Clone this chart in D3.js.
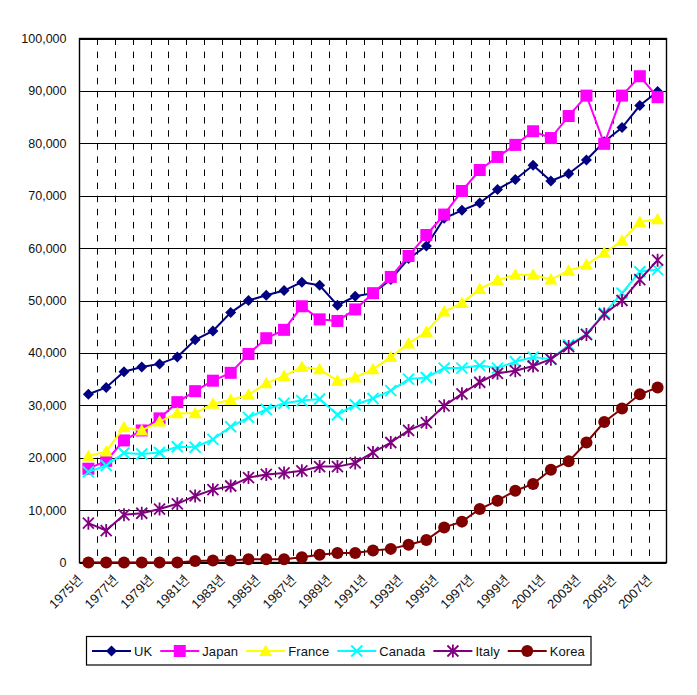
<!DOCTYPE html>
<html>
<head>
<meta charset="utf-8">
<script src="https://cdn.jsdelivr.net/npm/d3@7"></script>
<style>
  html, body { margin: 0; padding: 0; background: #fff; }
  svg text { font-family: "Liberation Sans", Arial, "Noto Sans CJK KR", sans-serif; fill: #111; }
</style>
</head>
<body>
<svg id="chart" width="697" height="695"></svg>
<script>
// ---- data (values in thousands) ----
const years = d3.range(1975, 2008);
const yearLabels = years.map(y => y + "년");
const yTicks = [0, 10000, 20000, 30000, 40000, 50000, 60000, 70000, 80000, 90000, 100000];
const seriesNames = ["UK", "Japan", "France", "Canada", "Italy", "Korea"];
const ukK = [32.1,33.4,36.4,37.3,37.9,39.2,42.5,44.2,47.7,50.0,51.0,51.9,53.5,52.9,49.1,50.8,51.4,54.0,58.0,60.4,65.7,67.2,68.6,71.2,73.1,75.8,72.8,74.2,76.8,80.3,83.0,87.2,89.9];
const japanK = [17.9,19.4,23.3,25.2,27.5,30.6,32.7,34.7,36.2,39.8,42.8,44.4,48.9,46.4,46.1,48.3,51.4,54.5,58.5,62.5,66.4,70.9,74.9,77.4,79.7,82.3,81.0,85.2,89.1,79.9,89.1,92.8,88.8];
const franceK = [20.3,21.2,25.8,25.2,26.9,28.5,28.5,30.3,31.0,32.0,34.2,35.6,37.3,36.9,34.7,35.3,36.9,39.2,41.8,44.0,47.9,49.5,52.2,53.9,54.9,54.9,54.0,55.7,56.8,59.1,61.4,65.0,65.5];
const canadaK = [17.3,18.5,20.9,20.7,21.0,22.1,22.0,23.5,25.9,27.7,29.2,30.4,30.9,31.2,28.2,30.1,31.3,32.8,35.0,35.3,37.1,37.1,37.6,37.1,38.3,39.2,38.8,41.5,43.6,47.6,51.4,55.5,55.9];
const italyK = [7.5,6.1,9.1,9.4,10.2,11.2,12.7,13.9,14.6,16.2,16.8,17.1,17.5,18.3,18.3,19.0,21.0,22.9,25.2,26.7,29.9,32.2,34.4,36.1,36.6,37.5,38.8,41.2,43.5,47.4,50.0,54.0,57.7];
const koreaK = [0,0,0,0,0,0,0.3,0.4,0.4,0.6,0.6,0.6,1.0,1.5,1.8,1.8,2.3,2.6,3.4,4.3,6.7,7.8,10.2,11.8,13.7,15.0,17.7,19.3,22.9,26.8,29.4,32.1,33.4];
const seriesValues = [ukK, japanK, franceK, canadaK, italyK, koreaK];
const seriesColors = ["#000080", "#FF00FF", "#FFFF00", "#00FFFF", "#800080", "#800000"];
const seriesMarkers = ["diamond", "square", "triangle", "x", "asterisk", "circle"];

// ---- layout ----
const svg = d3.select("#chart");
const L = 79.5, R = 666.5, T = 38.5, B = 562.5;

const x = d3.scaleBand().domain(years).range([L, R]).padding(0);
const y = d3.scaleLinear().domain([0, 100000]).range([B, T]);
const cx = yr => x(yr) + x.bandwidth() / 2;

// vertical dashed gridlines at category boundaries
svg.append("g").selectAll("line")
  .data(years.slice(1))
  .join("line")
  .attr("x1", d => Math.round(x(d)) + 0.5).attr("x2", d => Math.round(x(d)) + 0.5)
  .attr("y1", T).attr("y2", B)
  .attr("stroke", "#000").attr("stroke-width", 1)
  .attr("stroke-dasharray", "6.5,6.6");

// horizontal gridlines
svg.append("g").selectAll("line")
  .data(yTicks)
  .join("line")
  .attr("x1", L).attr("x2", R)
  .attr("y1", d => Math.round(y(d)) + 0.5).attr("y2", d => Math.round(y(d)) + 0.5)
  .attr("stroke", "#000").attr("stroke-width", 1.2);

// plot border
svg.append("rect")
  .attr("x", L).attr("y", T).attr("width", R - L).attr("height", B - T)
  .attr("fill", "none").attr("stroke", "#000").attr("stroke-width", 1.4);

// y axis labels
const yAxis = d3.axisLeft(y).tickValues(yTicks).tickSize(0).tickPadding(13)
  .tickFormat(d3.format(","));
const gy = svg.append("g").attr("transform", `translate(${L},0)`).call(yAxis);
gy.select(".domain").remove();
gy.selectAll("text").attr("font-size", 12.5).attr("fill", "#111")
  .attr("font-family", '"Liberation Sans", Arial, sans-serif');

// x axis labels (every other year), rotated
const xAxis = d3.axisBottom(x).tickValues(years.filter((d, i) => i % 2 === 0))
  .tickSize(0).tickFormat(d => d + "년");
const gx = svg.append("g").attr("transform", `translate(0,${B})`).call(xAxis);
gx.select(".domain").remove();
gx.selectAll("text")
  .attr("font-size", 13)
  .attr("fill", "#111")
  .attr("font-family", '"Liberation Sans", Arial, "Noto Sans CJK KR", sans-serif')
  .attr("text-anchor", "end")
  .attr("dy", null).attr("y", 0)
  .attr("transform", "translate(-5,18) rotate(-45)");

// marker drawing
function drawMarker(g, type, color) {
  if (type === "diamond") {
    g.append("path").attr("d", "M0,-5.5L5.5,0L0,5.5L-5.5,0Z").attr("fill", color);
  } else if (type === "square") {
    g.append("rect").attr("x", -6).attr("y", -6).attr("width", 12).attr("height", 12).attr("fill", color);
  } else if (type === "triangle") {
    g.append("path").attr("d", "M0,-6.5L6.5,5L-6.5,5Z").attr("fill", color);
  } else if (type === "x") {
    g.append("path").attr("d", "M-5.5,-5.5L5.5,5.5M-5.5,5.5L5.5,-5.5")
      .attr("stroke", color).attr("stroke-width", 2).attr("fill", "none");
  } else if (type === "asterisk") {
    g.append("path").attr("d", "M-5.5,-5.5L5.5,5.5M-5.5,5.5L5.5,-5.5M0,-6.5L0,6.5")
      .attr("stroke", color).attr("stroke-width", 1.8).attr("fill", "none");
  } else if (type === "circle") {
    g.append("circle").attr("r", 6).attr("fill", color);
  }
}

// series
const line = d3.line().x((d, i) => cx(years[i])).y(d => y(d * 1000));
seriesNames.forEach((name, si) => {
  const g = svg.append("g");
  g.append("path").datum(seriesValues[si]).attr("d", line)
    .attr("fill", "none").attr("stroke", seriesColors[si]).attr("stroke-width", 2);
  seriesValues[si].forEach((v, i) => {
    const mg = g.append("g").attr("transform", `translate(${cx(years[i])},${y(v * 1000)})`);
    drawMarker(mg, seriesMarkers[si], seriesColors[si]);
  });
});

// legend
const lg = svg.append("g");
const legBox = lg.append("rect").attr("x", 86.5).attr("y", 636.5).attr("height", 28.5)
  .attr("fill", "#fff").attr("stroke", "#000").attr("stroke-width", 1.2);
let lx = 92;
const ly = 651;
seriesNames.forEach((name, si) => {
  const ig = lg.append("g");
  ig.append("line").attr("x1", lx).attr("x2", lx + 39).attr("y1", ly).attr("y2", ly)
    .attr("stroke", seriesColors[si]).attr("stroke-width", 2);
  const mg = ig.append("g").attr("transform", `translate(${lx + 19.5},${ly})`);
  drawMarker(mg, seriesMarkers[si], seriesColors[si]);
  const t = ig.append("text").attr("x", lx + 42).attr("y", ly).attr("dy", "0.36em")
    .attr("font-size", 13).attr("letter-spacing", 0.1).attr("fill", "#111").text(name);
  lx = lx + 42 + t.node().getComputedTextLength() + 8;
});
legBox.attr("width", 591 - 86.5);
</script>
</body>
</html>
